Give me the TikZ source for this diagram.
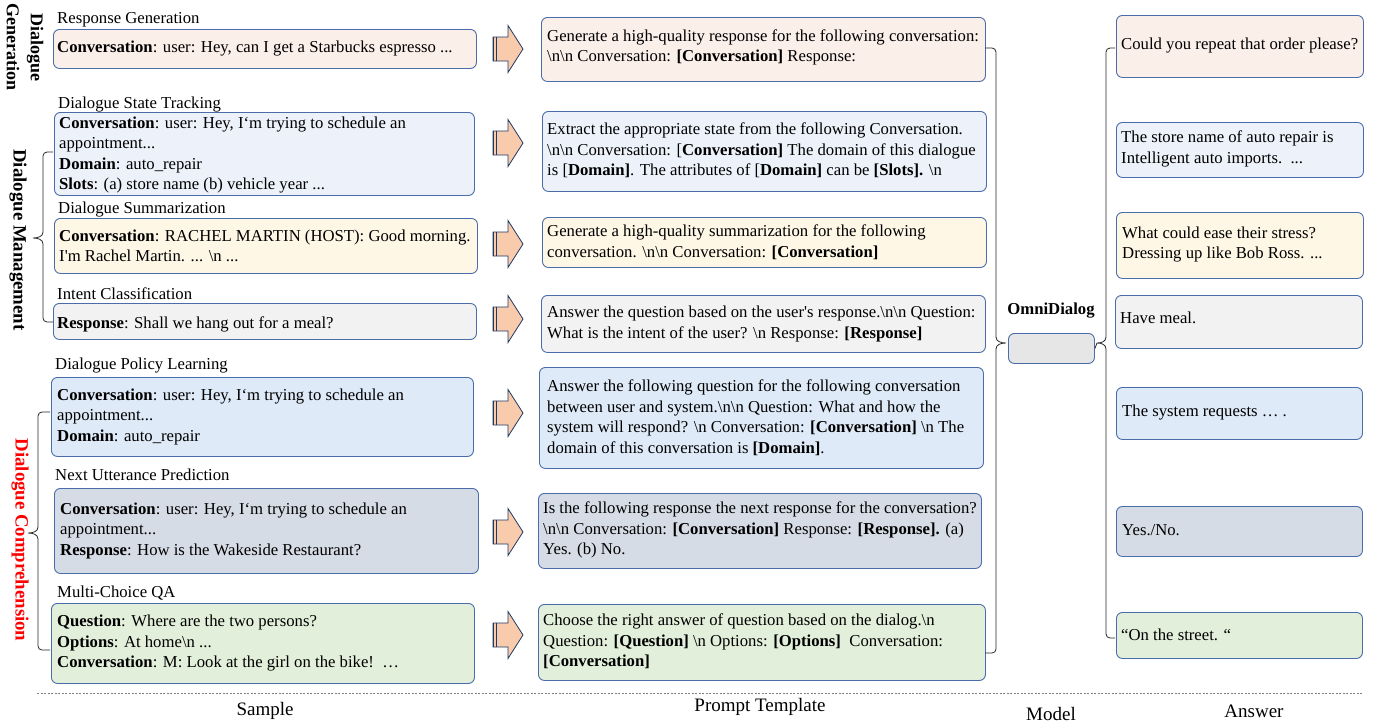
\documentclass[tikz,border=0pt]{standalone}
\usepackage{fontspec}
\setmainfont{Liberation Serif}
\usetikzlibrary{calc}
\definecolor{bord}{HTML}{4A6DAA}
\definecolor{cA}{HTML}{FBEFEA}
\definecolor{cB}{HTML}{EDF1F9}
\definecolor{cC}{HTML}{FEF7E6}
\definecolor{cD}{HTML}{F2F2F2}
\definecolor{cE}{HTML}{DEEAF7}
\definecolor{cF}{HTML}{D6DCE6}
\definecolor{cG}{HTML}{E2EFDA}
\definecolor{cOm}{HTML}{E6E6E6}
\definecolor{arrf}{HTML}{F8CBAD}
\definecolor{arrd}{HTML}{1F3864}
\definecolor{redlab}{HTML}{FF0000}
\newcommand\bs{\textbackslash}
\newcommand\sq{\textquotesingle}
\newcommand\fs{\fontsize{16.7}{20.5}\selectfont}
\newcommand\mkbox[6]{\node[sbox, fill=#6, minimum width={#4pt-#2pt}, minimum height={#5pt-#3pt}, anchor=north west] (#1) at (#2,#3) {};}
\newcommand\pfeil[2]{%
\begin{scope}[shift={(0,#2)}]
\path[fill=arrf, draw=arrd, line width=0.8pt] (493,-12) -- (508,-12) -- (508,-23.5) -- (523,0) -- (508,23.5) -- (508,12) -- (493,12) -- cycle;
\draw[arrd, line width=1.3pt] (493.7,-12) -- (493.7,12);
\draw[arrd, line width=1.1pt] (496.6,-12) -- (496.6,12);
\end{scope}}
% brace: #1 hook x, #2 arm x, #3 tip x, #4 top y, #5 mid y, #6 bottom y
\newcommand\mybrace[6]{%
\draw[brcline, rounded corners=4pt] (#1,#4) -- (#2,#4) -- (#2,{#5-6});
\draw[brcline] (#2,{#5-6}) .. controls (#2,{#5-1.5}) and ({(#2+#3)/2},#5) .. (#3,#5) .. controls ({(#2+#3)/2},#5) and (#2,{#5+1.5}) .. (#2,{#5+6});
\draw[brcline, rounded corners=4pt] (#2,{#5+6}) -- (#2,#6) -- (#1,#6);}
\tikzset{
  sbox/.style={draw=bord, line width=0.9pt, rounded corners=6pt, inner sep=0pt},
  txt/.style={font=\fs, align=left, inner sep=0pt, anchor=west},
  tasklab/.style={font=\fs, inner sep=0pt, anchor=base west},
  grouplab/.style={font=\fontsize{18.8}{22}\selectfont\bfseries, rotate=-90, align=center, inner sep=0pt},
  brcline/.style={line width=0.8pt, black!85},
  collab/.style={font=\fontsize{19}{21}\selectfont, inner sep=0pt}
}
\begin{document}
\begin{tikzpicture}[x=1pt, y=-1pt]
\useasboundingbox (0,0) rectangle (1379,724);

% ---------- group labels ----------
\node[grouplab, font=\fontsize{18}{24}\selectfont\bfseries] (gGen) at (25,47) {Dialogue\\Generation};
\node[grouplab] (gMan) at (18,240) {Dialogue Management};
\node[grouplab, text=redlab] (gCom) at (20,540) {Dialogue Comprehension};

% ---------- task labels ----------
\node[tasklab] (l1) at (57,23) {Response Generation};
\node[tasklab] (l2) at (58,108) {Dialogue State Tracking};
\node[tasklab] (l3) at (58,213) {Dialogue Summarization};
\node[tasklab] (l4) at (57,299) {Intent Classification};
\node[tasklab] (l5) at (55,369) {Dialogue Policy Learning};
\node[tasklab] (l6) at (55,480) {Next Utterance Prediction};
\node[tasklab] (l7) at (57,597) {Multi-Choice QA};

% ---------- sample boxes ----------
\mkbox{s1}{53}{29}{476}{68}{cA}
\mkbox{s2}{54}{112}{474}{195}{cB}
\mkbox{s3}{54}{218}{477}{273}{cC}
\mkbox{s4}{53}{303}{476}{339}{cD}
\mkbox{s5}{51}{377}{473}{456}{cE}
\mkbox{s6}{54}{488}{478}{573}{cF}
\mkbox{s7}{51}{603}{474}{683}{cG}

\node[txt] (s1t) at ([xshift=4pt]s1.west) {\textbf{Conversation}: user: Hey, can I get a Starbucks espresso ...};
\node[txt] (s2t) at ([xshift=5pt,yshift=-1pt]s2.west) {\textbf{Conversation}: user: Hey, I‘m trying to schedule an\\appointment...\\\textbf{Domain}: auto\_repair\\\textbf{Slots}: (a) store name (b) vehicle year ...};
\node[txt] (s3t) at ([xshift=5pt]s3.west) {\textbf{Conversation}: RACHEL MARTIN (HOST): Good morning.\\I\sq m Rachel Martin. ... \bs n ...};
\node[txt] (s4t) at ([xshift=4pt,yshift=-3pt]s4.west) {\textbf{Response}: Shall we hang out for a meal?};
\node[txt] (s5t) at ([xshift=6pt]s5.west) {\textbf{Conversation}: user: Hey, I‘m trying to schedule an\\appointment...\\\textbf{Domain}: auto\_repair};
\node[txt] (s6t) at ([xshift=6pt]s6.west) {\textbf{Conversation}: user: Hey, I‘m trying to schedule an\\appointment...\\\textbf{Response}: How is the Wakeside Restaurant?};
\node[txt] (s7t) at ([xshift=6pt]s7.west) {\textbf{Question}: Where are the two persons?\\\textbf{Options}: At home\bs n ...\\\textbf{Conversation}: M: Look at the girl on the bike!~~…};

% ---------- arrows ----------
\pfeil{a1}{49}
\pfeil{a2}{143}
\pfeil{a3}{244}
\pfeil{a4}{319}
\pfeil{a5}{413}
\pfeil{a6}{532}
\pfeil{a7}{635}

% ---------- prompt boxes ----------
\mkbox{p1}{541}{17}{985}{81}{cA}
\mkbox{p2}{542}{111}{986}{191}{cB}
\mkbox{p3}{542}{217}{986}{267}{cC}
\mkbox{p4}{541}{295}{985}{352}{cD}
\mkbox{p5}{539}{367}{983}{468}{cE}
\mkbox{p6}{538}{493}{981}{568}{cF}
\mkbox{p7}{538}{604}{985}{680}{cG}

\node[txt] (p1t) at ([xshift=6pt,yshift=2pt]p1.west) {Generate a high-quality response for the following conversation:\\\bs n\bs n Conversation: \textbf{[Conversation]} Response:};
\node[txt] (p2t) at ([xshift=5pt,yshift=1pt]p2.west) {Extract the appropriate state from the following Conversation.\\\bs n\bs n Conversation: [\textbf{Conversation]} The domain of this dialogue\\is [\textbf{Domain]}. The attributes of [\textbf{Domain]} can be \textbf{[Slots].} \bs n};
\node[txt] (p3t) at ([xshift=5pt]p3.west) {Generate a high-quality summarization for the following\\conversation. \bs n\bs n Conversation: \textbf{[Conversation]}};
\node[txt] (p4t) at ([xshift=6pt]p4.west) {Answer the question based on the user\sq s response.\bs n\bs n Question:\\What is the intent of the user? \bs n Response: \textbf{[Response]}};
\node[txt] (p5t) at ([xshift=8pt]p5.west) {Answer the following question for the following conversation\\between user and system.\bs n\bs n Question: What and how the\\system will respond? \bs n Conversation: \textbf{[Conversation]} \bs n The\\domain of this conversation is \textbf{[Domain]}.};
\node[txt] (p6t) at ([xshift=5pt,yshift=1pt]p6.west) {Is the following response the next response for the conversation?\\\bs n\bs n Conversation: \textbf{[Conversation]} Response: \textbf{[Response].} (a)\\Yes. (b) No.};
\node[txt] (p7t) at ([xshift=5pt,yshift=1pt]p7.west) {Choose the right answer of question based on the dialog.\bs n\\Question: \textbf{[Question]} \bs n Options: \textbf{[Options]}~~Conversation:\\\textbf{[Conversation]}};

% ---------- model ----------
\node[sbox, fill=cOm, minimum width=86pt, minimum height=30pt, anchor=north west] (omni) at (1008,333) {};
\node[font=\fs\bfseries, inner sep=0pt] (omnil) at (1051,311) {OmniDialog};

% ---------- answer boxes ----------
\mkbox{r1}{1116}{15}{1363}{77}{cA}
\mkbox{r2}{1116}{122}{1363}{177}{cB}
\mkbox{r3}{1116}{212}{1363}{278}{cC}
\mkbox{r4}{1115}{295}{1362}{348}{cD}
\mkbox{r5}{1116}{387}{1362}{439}{cE}
\mkbox{r6}{1116}{506}{1362}{556}{cF}
\mkbox{r7}{1116}{612}{1362}{658}{cG}

\node[txt] (r1t) at ([xshift=5pt,yshift=1pt]r1.west) {Could you repeat that order please?};
\node[txt] (r2t) at ([xshift=5pt,yshift=1pt]r2.west) {The store name of auto repair is\\Intelligent auto imports.~~...};
\node[txt] (r3t) at ([xshift=6pt,yshift=1pt]r3.west) {What could ease their stress?\\Dressing up like Bob Ross. ...};
\node[txt] (r4t) at ([xshift=5pt,yshift=4pt]r4.west) {Have meal.};
\node[txt] (r5t) at ([xshift=6pt,yshift=1pt]r5.west) {The system requests … .};
\node[txt] (r6t) at ([xshift=6pt,yshift=1pt]r6.west) {Yes./No.};
\node[txt] (r7t) at ([xshift=5pt,yshift=1pt]r7.west) {“On the street. “};

% ---------- braces ----------
\mybrace{53}{43}{33}{152}{238}{322}
\mybrace{50}{38}{28}{412}{533}{650}
\mybrace{985}{996}{1006}{48}{343}{653}
\mybrace{1115}{1106}{1097}{48}{343}{638}
\coordinate (batip) at (1097,343);
\draw[brcline] (omni.east) -- (batip);

% ---------- bottom ----------
\coordinate (dl) at (37,693);
\coordinate (dr) at (1362,693);
\draw[gray, line width=1pt, dash pattern=on 2pt off 1.5pt] (dl) -- (dr);
\node[collab] (c1) at (265,711) {Sample};
\node[collab] (c2) at (760,707) {Prompt Template};
\node[collab] (c3) at (1051,714) {Model};
\node[collab] (c4) at (1254,711) {Answer};
\end{tikzpicture}
\end{document}
